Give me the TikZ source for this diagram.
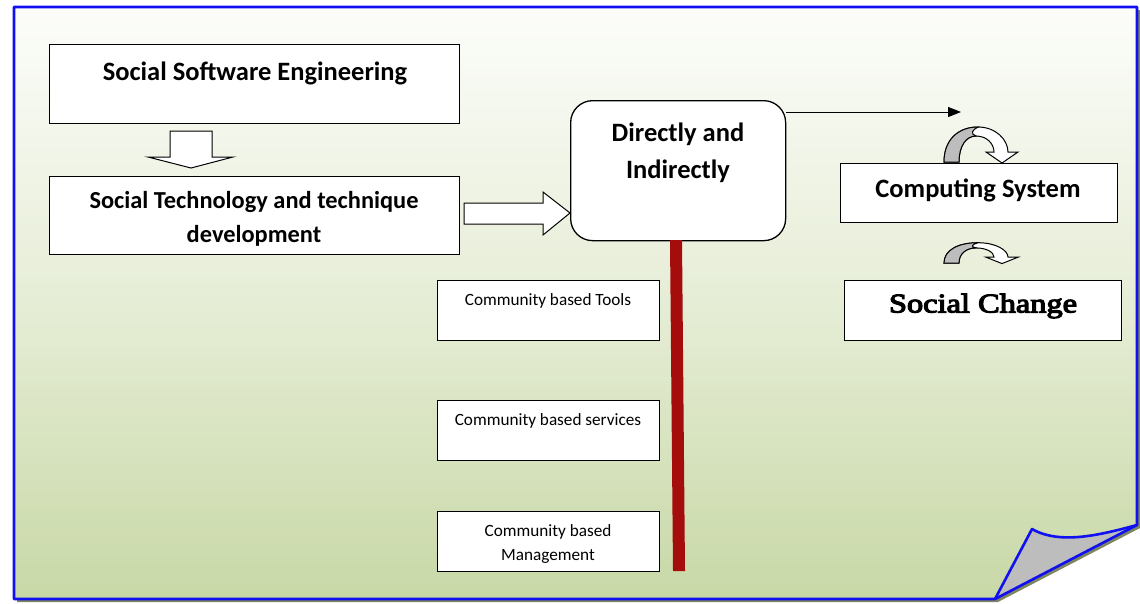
\documentclass[tikz,border=0pt]{standalone}
\usepackage{fontspec}
\setmainfont{Carlito}
\newfontfamily\heavyserif[FakeBold=4]{Liberation Serif}
\usetikzlibrary{arrows.meta}
\definecolor{frameblue}{HTML}{1010F0}
\definecolor{bgtop}{HTML}{FCFDFA}
\definecolor{bgmid}{HTML}{E6EDD6}
\definecolor{bgbot}{HTML}{C8D8A6}
\definecolor{shadowol}{HTML}{7E8660}
\definecolor{barred}{HTML}{A50C0C}
\definecolor{curlgray}{HTML}{BDBDBD}
\tikzset{
  box/.style={draw=black, line width=1.3pt, fill=white, inner sep=0pt},
  bigtxt/.style={font=\fontsize{26.5}{30}\selectfont\bfseries, inner sep=0pt},
  midtxt/.style={font=\fontsize{24.4}{28}\selectfont\bfseries, inner sep=0pt},
  smalltxt/.style={font=\fontsize{17.2}{20}\selectfont, inner sep=0pt},
  hollow/.style={draw=black, line width=1pt, fill=white},
  curlarrow/.style={draw=black, line width=1pt, fill=white},
}
\begin{document}
\begin{tikzpicture}[x=1pt,y=-1pt]
\useasboundingbox (0,0) rectangle (1140,603);
% frame shadow
\fill[shadowol] (17,10) -- (1140,10) -- (1140,528) -- (998,602) -- (17,602) -- cycle;
% frame background
\shade[top color=bgtop, bottom color=bgbot, middle color=bgmid]
  (14,7) -- (1137,7) -- (1137,525) -- (995,599) -- (14,599) -- cycle;
% page curl
\fill[curlgray] (995,599) -- (1032,529) .. controls (1060,545) and (1100,535) .. (1136,525) -- cycle;
\draw[frameblue, line width=2.6pt, line join=round]
  (14,7) -- (1137,7) -- (1137,525) -- (995,599) -- (14,599) -- cycle;
\draw[frameblue, line width=2.6pt, line join=round]
  (995,599) -- (1032,529) .. controls (1060,545) and (1100,535) .. (1137,525);

% boxes
\node[box, minimum width=410, minimum height=79, anchor=north west] (sse) at (49,44) {};
\node[bigtxt] (ssetxt) at (255,73) {Social Software Engineering};
\node[box, minimum width=410, minimum height=78, anchor=north west] (stt) at (49,176) {};
\node[midtxt] (stt1) at (254,202) {Social Technology and technique};
\node[midtxt] (stt2) at (254,236) {development};
\node[box, rounded corners=22, minimum width=215, minimum height=140, anchor=north west] (dir) at (570,100) {};
\node[bigtxt] (dir1) at (678,134) {Directly and};
\node[bigtxt] (dir2) at (678,171) {Indirectly};
\node[box, minimum width=277, minimum height=59, anchor=north west] (cs) at (840,163) {};
\node[bigtxt] (cstxt) at (978,190) {Computing System};
\node[box, minimum width=277, minimum height=60, anchor=north west] (sc) at (844,280) {};
\node[inner sep=0pt, xscale=1.2, transform shape, font=\fontsize{27}{30}\selectfont\heavyserif] (sctxt) at (983,306) {Social Change};

% red bar
\fill[barred] (670,240) -- (682,240) -- (685,571) -- (673,571) -- cycle;

% community boxes
\node[box, line width=1.1pt, minimum width=222, minimum height=60, anchor=north west] (ct) at (437,280) {};
\node[smalltxt] (cttxt) at (548,301) {Community based Tools};
\node[box, line width=1.1pt, minimum width=222, minimum height=60, anchor=north west] (cv) at (437,400) {};
\node[smalltxt] (cvtxt) at (548,421) {Community based services};
\node[box, line width=1.1pt, minimum width=222, minimum height=60, anchor=north west] (cm) at (437,511) {};
\node[smalltxt] (cm1) at (548,532) {Community based};
\node[smalltxt] (cm2) at (548,556) {Management};

% hollow down arrow
\draw[hollow] (170,131) -- (212,131) -- (212,157) -- (233,157) -- (191,168) -- (148,157) -- (170,157) -- cycle;
% hollow right arrow
\draw[hollow] (464,203) -- (543,203) -- (543,192) -- (570,213) -- (543,235) -- (543,224) -- (464,224) -- cycle;
% black arrow
\coordinate (arrend) at (961,112);
\draw[line width=1pt, -{Triangle[length=13pt,width=10pt]}] (dir.north east |- arrend) -- (arrend);

% curved arrows
\foreach \sx/\sy/\sc in {944/162/1, 944/263/0.58}{
\begin{scope}[shift={(\sx,\sy)}, yscale=\sc]
\draw[curlarrow] (0,0) .. controls (0,-22) and (14,-35) .. (34,-35) .. controls (52,-35) and (64,-22) .. (64,-10)
  -- (74,-10) -- (58,1) -- (42,-10) -- (50,-10) .. controls (50,-18) and (43,-26) .. (32,-26)
  .. controls (22,-26) and (15,-16) .. (15,0) -- cycle;
\draw[black, line width=1pt, fill=curlgray] (0,0) .. controls (0,-22) and (14,-35) .. (34,-35)
  .. controls (28,-32) and (26,-28) .. (32,-26) .. controls (22,-26) and (15,-16) .. (15,0) -- cycle;
\end{scope}
}
\end{tikzpicture}
\end{document}
